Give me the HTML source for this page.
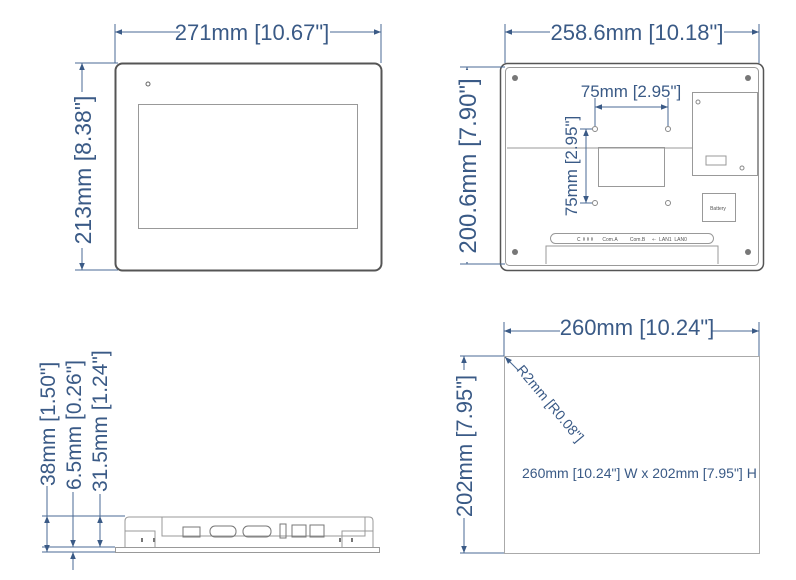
<!DOCTYPE html>
<html><head><meta charset="utf-8"><style>
html,body{margin:0;padding:0;background:#fff;}
svg{display:block;font-family:"Liberation Sans",sans-serif;}
.d{fill:#3a5a86;}
.l{stroke:#4a6a94;stroke-width:1;fill:none;}
.g{stroke:#555;fill:none;}
.g2{stroke:#999;fill:none;stroke-width:1;}
</style></head><body>
<svg width="796" height="580" viewBox="0 0 796 580" xmlns="http://www.w3.org/2000/svg">
<defs>
<marker id="a" viewBox="0 0 10 10" refX="10" refY="5" markerWidth="9" markerHeight="7" orient="auto-start-reverse"><path d="M0,1 L10,5 L0,9 z" fill="#3a5a86"/></marker>
</defs>
<!-- FRONT -->
<rect x="115.5" y="63.5" width="266" height="207" rx="7" class="g" stroke-width="2"/>
<rect x="138.5" y="104.5" width="219" height="124" class="g2"/>
<circle cx="148" cy="84" r="2" fill="none" stroke="#666"/>
<line x1="115" y1="24" x2="115" y2="63" class="l"/>
<line x1="381" y1="24" x2="381" y2="63" class="l"/>
<line x1="115" y1="32" x2="381" y2="32" class="l" marker-start="url(#a)" marker-end="url(#a)"/>
<rect x="180" y="20" width="150" height="22" fill="#fff"/>
<text x="252" y="40" font-size="22" text-anchor="middle" class="d">271mm [10.67"]</text>
<line x1="75" y1="63" x2="118" y2="63" class="l"/>
<line x1="75" y1="270" x2="118" y2="270" class="l"/>
<line x1="82" y1="63" x2="82" y2="270" class="l" marker-start="url(#a)" marker-end="url(#a)"/>
<rect x="68" y="92" width="22" height="156" fill="#fff"/>
<text transform="translate(91,170) rotate(-90)" font-size="23" text-anchor="middle" class="d">213mm [8.38"]</text>

<!-- BACK -->
<rect x="500.5" y="63.5" width="263" height="207" rx="7" class="g" stroke-width="1.5"/>
<rect x="505.5" y="67.5" width="253" height="198" rx="4" class="g2"/>
<line x1="507" y1="148" x2="692" y2="148" class="g2"/>
<rect x="692.5" y="92.5" width="65" height="83" class="g2"/>
<rect x="598.5" y="147.5" width="66" height="39" class="g2"/>
<rect x="706" y="156" width="20" height="9" class="g2"/>
<rect x="702.5" y="193.5" width="33" height="28" class="g2"/>
<text x="718" y="210" font-size="5" text-anchor="middle" fill="#555">Battery</text>
<g fill="#777"><circle cx="515" cy="78" r="3"/><circle cx="748" cy="78" r="3"/><circle cx="515" cy="252" r="3"/><circle cx="748" cy="252" r="3"/></g>
<g fill="none" stroke="#888"><circle cx="595" cy="129" r="2.5"/><circle cx="668" cy="129" r="2.5"/><circle cx="595" cy="203" r="2.5"/><circle cx="668" cy="203" r="2.5"/><circle cx="698" cy="102" r="2"/><circle cx="742" cy="168" r="2"/></g>
<rect x="550.5" y="233.5" width="163" height="10" rx="5" class="g2"/>
<path d="M546,264 L546,246 L718,246 L718,264" class="g2"/>
<text x="632" y="241" font-size="5" text-anchor="middle" fill="#555" xml:space="preserve">Ꮯ ▯▯▯      Com.A         Com.B     ⇠  LAN1  LAN0</text>
<line x1="505" y1="24" x2="505" y2="63" class="l"/>
<line x1="759" y1="24" x2="759" y2="63" class="l"/>
<line x1="505" y1="32" x2="759" y2="32" class="l" marker-start="url(#a)" marker-end="url(#a)"/>
<rect x="550" y="20" width="174" height="22" fill="#fff"/>
<text x="637" y="40" font-size="22" text-anchor="middle" class="d">258.6mm [10.18"]</text>
<line x1="460" y1="67" x2="505" y2="67" class="l"/>
<line x1="460" y1="264" x2="505" y2="264" class="l"/>
<line x1="467" y1="67" x2="467" y2="264" class="l" marker-start="url(#a)" marker-end="url(#a)"/>
<rect x="452" y="70" width="24" height="192" fill="#fff"/>
<text transform="translate(476,166) rotate(-90)" font-size="24" text-anchor="middle" class="d">200.6mm [7.90"]</text>
<line x1="595" y1="98" x2="595" y2="126" class="l"/>
<line x1="668" y1="98" x2="668" y2="126" class="l"/>
<line x1="595" y1="107" x2="668" y2="107" class="l" marker-start="url(#a)" marker-end="url(#a)"/>
<text x="631" y="97" font-size="17" text-anchor="middle" class="d">75mm [2.95"]</text>
<line x1="580" y1="129" x2="592" y2="129" class="l"/>
<line x1="580" y1="203" x2="592" y2="203" class="l"/>
<line x1="586" y1="129" x2="586" y2="203" class="l" marker-start="url(#a)" marker-end="url(#a)"/>
<text transform="translate(577,166) rotate(-90)" font-size="17" text-anchor="middle" class="d">75mm [2.95"]</text>

<!-- SIDE -->
<path d="M125,547 L125,521 Q125,517 129,517 L369,517 Q373,517 373,521 L373,547" class="g2"/>
<rect x="115.5" y="547.5" width="264" height="5" class="g2"/>
<path d="M162,517 L162,536 L365,536 L365,517" class="g2"/>
<path d="M125,531 L155,531 L155,547 M373,531 L342,531 L342,547" class="g2"/>
<rect x="183" y="527" width="17" height="10" fill="none" stroke="#777"/>
<rect x="210" y="526" width="26" height="11" rx="5" fill="none" stroke="#777"/>
<rect x="243" y="526" width="28" height="11" rx="5" fill="none" stroke="#777"/>
<rect x="280" y="524" width="6" height="14" fill="none" stroke="#777"/>
<rect x="292" y="525" width="14" height="12" fill="none" stroke="#777"/>
<rect x="310" y="525" width="14" height="12" fill="none" stroke="#777"/>
<g fill="#777"><rect x="141" y="538" width="2" height="4"/><rect x="153" y="538" width="2" height="4"/><rect x="339" y="538" width="2" height="4"/><rect x="351" y="538" width="2" height="4"/></g>
<line x1="42" y1="516" x2="125" y2="516" class="l"/>
<line x1="42" y1="547" x2="115" y2="547" class="l"/>
<line x1="42" y1="552" x2="115" y2="552" class="l"/>
<line x1="47" y1="516" x2="47" y2="552" class="l" marker-start="url(#a)" marker-end="url(#a)"/>
<line x1="73" y1="492" x2="73" y2="547" class="l" marker-end="url(#a)"/>
<line x1="73" y1="570" x2="73" y2="552" class="l" marker-end="url(#a)"/>
<line x1="100" y1="494" x2="100" y2="516" class="l"/>
<line x1="100" y1="516" x2="100" y2="547" class="l" marker-start="url(#a)" marker-end="url(#a)"/>
<line x1="47" y1="486" x2="47" y2="516" class="l"/>
<text transform="translate(55,486) rotate(-90)" font-size="21" class="d">38mm [1.50"]</text>
<text transform="translate(81,490) rotate(-90)" font-size="21" class="d">6.5mm [0.26"]</text>
<text transform="translate(107,492) rotate(-90)" font-size="21" class="d">31.5mm [1.24"]</text>

<!-- CUTOUT -->
<rect x="504.5" y="356.5" width="255" height="197" fill="none" stroke="#aaa"/>
<line x1="504" y1="322" x2="504" y2="356" class="l"/>
<line x1="759" y1="322" x2="759" y2="356" class="l"/>
<line x1="504" y1="331" x2="759" y2="331" class="l" marker-start="url(#a)" marker-end="url(#a)"/>
<rect x="560" y="318" width="152" height="22" fill="#fff"/>
<text x="637" y="335" font-size="22" text-anchor="middle" class="d">260mm [10.24"]</text>
<line x1="460" y1="356" x2="504" y2="356" class="l"/>
<line x1="460" y1="553" x2="504" y2="553" class="l"/>
<line x1="464" y1="356" x2="464" y2="553" class="l" marker-start="url(#a)" marker-end="url(#a)"/>
<rect x="452" y="370" width="22" height="148" fill="#fff"/>
<text transform="translate(472,446) rotate(-90)" font-size="22" text-anchor="middle" class="d">202mm [7.95"]</text>
<line x1="518" y1="370" x2="505" y2="357" class="l" marker-end="url(#a)"/>
<text transform="translate(516,370) rotate(50)" font-size="14" class="d">R2mm [R0.08"]</text>
<text x="522" y="478" font-size="14" class="d">260mm [10.24"] W x 202mm [7.95"] H</text>
</svg>
</body></html>
